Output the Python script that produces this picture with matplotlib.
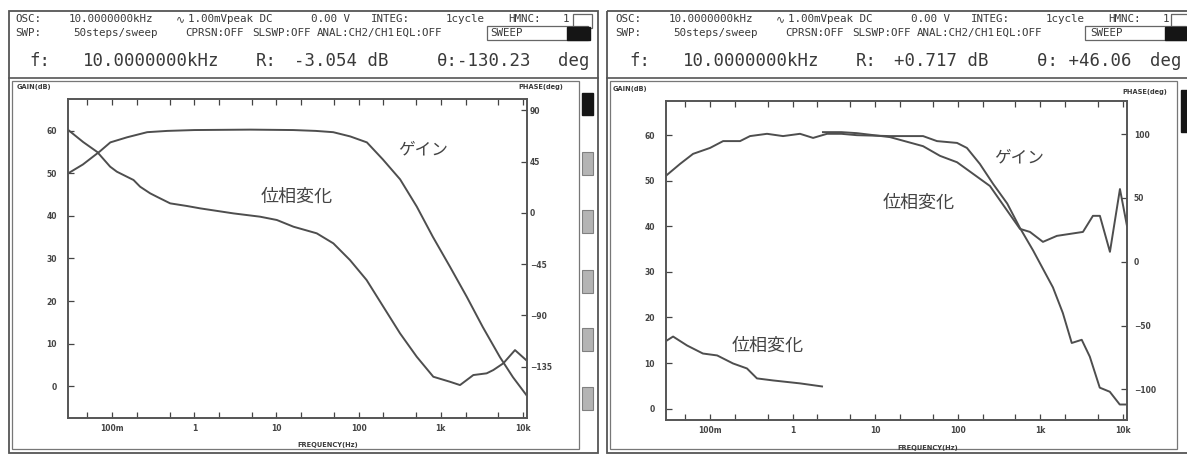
import numpy as np
import matplotlib.pyplot as plt
from matplotlib.patches import Rectangle
from matplotlib.ticker import FixedLocator, FixedFormatter, NullLocator

# ---- data (freq in Hz, gain in dB, phase in deg)
gain_l_freq = [0.029, 0.044, 0.071, 0.095, 0.152, 0.267, 0.47, 1.0, 4.8, 16, 30,
               49, 79, 126, 197, 320, 510, 800, 1290, 2070, 3240, 5250, 7550, 11000]
gain_l_db = [50, 52.1, 55.2, 57.3, 58.5, 59.7, 60, 60.2, 60.3, 60.2, 60,
             59.7, 58.7, 57.3, 53.3, 48.6, 42.2, 35.1, 28.1, 21, 13.9, 6.8, 2.1, -2.1]

phase_l_freq = [0.0292, 0.0444, 0.0658, 0.0945, 0.114, 0.151, 0.182, 0.219, 0.29, 0.35,
                0.508, 0.811, 1.18, 2.99, 6.31, 10.1, 16.1, 30.9, 49.2, 78.5, 125, 200,
                319, 509, 811, 1294, 1713, 2065, 2488, 3616, 4357, 5770, 8000, 10870]
phase_l_deg = [72.8, 62.2, 53.5, 40.6, 36.2, 31.8, 28.9, 23, 17.2, 14.2,
               8.4, 6.1, 4, -0.4, -3.3, -6.2, -12.1, -17.9, -26.7, -41.4, -58.9, -82.4,
               -105.7, -126.2, -143.8, -148.2, -151.1, -146.7, -142.3, -140.8, -137.9,
               -132, -120.4, -129]

gain_r_freq = [0.0293, 0.0434, 0.0623, 0.1, 0.144, 0.231, 0.305, 0.49, 0.765, 1.23, 1.77,
               2.61, 3.9, 6.0, 15.1, 38, 56, 98, 129, 185, 268, 397, 564, 817, 1420,
               1870, 2400, 3170, 3970, 5240, 6930, 9150, 11200]
gain_r_db = [51.1, 53.7, 55.9, 57.2, 58.7, 58.7, 59.8, 60.3, 59.8, 60.3, 59.4,
             60.3, 60.3, 60.0, 59.8, 59.8, 58.7, 58.3, 57.2, 53.7, 49.3, 45, 39.7, 34.7, 26.6,
             21, 14.4, 15.1, 11.4, 4.6, 3.7, 0.9, 0.9]

# phase leaves the screen around 2.3 Hz and comes back near the top (nan = gap)
phase_r_freq = [0.030, 0.0357, 0.0527, 0.082, 0.122, 0.19, 0.28, 0.37, 0.58, 1.23, 2.27,
                2.3, 2.33, 3.9, 6.0, 15.1, 38, 61, 98, 245, 566, 748, 1075, 1585,
                3280, 4330, 5260, 6960, 9200, 11200]
phase_r_deg = [-61.7, -58.6, -65.6, -71.9, -73.4, -79.7, -83.6, -91.4, -93, -95.3, -97.7,
               np.nan, 101.6, 101.6, 100.8, 97.7, 90.6, 83, 78, 59.4, 25.8, 23.4, 15.6, 20.3,
               23.4, 36, 36, 7.8, 57, 28]

xtick_pos = [0.05, 0.1, 0.2, 0.5, 1, 2, 5, 10, 20, 50, 100, 200, 500,
             1000, 2000, 5000, 10000]
xtick_lab = ['', '100m', '', '', '1', '', '', '10', '', '', '100', '', '',
             '1k', '', '', '10k']
gain_l_ticks = [0, 10, 20, 30, 40, 50, 60]
phase_l_ticks = [-135, -90, -45, 0, 45, 90]
gain_r_ticks = [0, 10, 20, 30, 40, 50, 60]
phase_r_ticks = [-100, -50, 0, 50, 100]

W, H = 1187, 457
fig = plt.figure(figsize=(W / 100, H / 100), dpi=100)
bg = fig.add_axes([0, 0, 1, 1])
bg.set_xlim(0, W)
bg.set_ylim(H, 0)
bg.axis('off')

INK = '#3a3a3a'
LINE = '#4e4e4e'
MONO = ['DejaVu Sans Mono', 'DejaVu Sans']
JP = ['Noto Sans CJK JP', 'DejaVu Sans']


def rect(x0, y0, x1, y1, fill=None, ec='#555555', lw=1.0):
    bg.add_patch(Rectangle((x0, y0), x1 - x0, y1 - y0, fill=fill is not None,
                           facecolor=fill, edgecolor=ec, lw=lw))


def put(x, y, s, size=8, family=MONO, **kw):
    bg.text(x, y, s, fontsize=size, family=family, color=INK, va='center', **kw)


def header(dx, vals, deg_x):
    line1 = [('OSC:', 15), ('10.0000000kHz', 69), ('∿', 176), ('1.00mVpeak DC', 188),
             ('0.00 V', 311), ('INTEG:', 371), ('1cycle', 446), ('HMNC:', 508), ('1', 563)]
    line2 = [('SWP:', 15), ('50steps/sweep', 73), ('CPRSN:OFF', 185), ('SLSWP:OFF', 252),
             ('ANAL:CH2/CH1', 317), ('EQL:OFF', 396), ('SWEEP', 490)]
    for s, x in line1:
        put(x + dx, 19, s, size=7.8)
    for s, x in line2:
        put(x + dx, 33, s, size=7.8)
    line3 = [('f:', 29), ('10.0000000kHz', 83), ('R:', 256), (vals[0], 294),
             (vals[1], 437)]
    for s, x in line3:
        put(x + dx, 61, s, size=12.5)
    put(deg_x, 61, 'deg', size=12.5)


def frame(dx, right):
    rect(9 + dx, 11, right, 453, lw=1.3)
    bg.plot([9 + dx, right], [78, 78], color='#555555', lw=1.2)
    rect(12 + dx, 81, 579 + dx, 449, ec='#777777', lw=0.9)
    rect(573 + dx, 14, 592 + dx, 28, ec='#666666', lw=0.9)
    rect(487 + dx, 26, 588 + dx, 40, ec='#666666', lw=0.9)
    rect(567 + dx, 27, 590 + dx, 40, fill='#151515', ec='#151515')


# left panel furniture
frame(0, 598)
rect(582, 93, 593, 115, fill='#151515', ec='#151515')
for y0 in [152, 210, 270, 328, 387]:
    rect(582, y0, 593, y0 + 23, fill='#b4b4b4', ec='#808080', lw=0.8)
header(0, ('-3.054 dB', 'θ:-130.23'), 558)

# right panel furniture (cut at the right edge)
frame(598, 1195)
rect(1181, 90, 1192, 132, fill='#151515', ec='#151515')
header(600, ('+0.717 dB', 'θ: +46.06'), 1150)


def bode(box_px, xlim, glim, plim, gticks, pticks, gf, gv, pf, pv, rpad):
    x0, y0, x1, y1 = box_px
    ax = fig.add_axes([x0 / W, 1 - y1 / H, (x1 - x0) / W, (y1 - y0) / H])
    ax.set_xscale('log')
    ax.set_xlim(*xlim)
    ax.set_ylim(*glim)
    ax.xaxis.set_major_locator(FixedLocator(xtick_pos))
    ax.xaxis.set_major_formatter(FixedFormatter(xtick_lab))
    ax.xaxis.set_minor_locator(NullLocator())
    ax.set_yticks(gticks)
    ax.tick_params(direction='in', length=4, width=0.9, colors='#444444',
                   labelsize=5.5, top=True)
    ax.tick_params(axis='y', pad=8)
    ax.tick_params(axis='x', pad=4)
    ax.plot(gf, gv, color=LINE, lw=1.4)

    ax2 = ax.twinx()
    ax2.set_ylim(*plim)
    ax2.set_yticks(pticks)
    ax2.yaxis.set_minor_locator(NullLocator())
    ax2.tick_params(direction='in', length=4, width=0.9, colors='#444444',
                    labelsize=5.5, pad=rpad)
    ax2.plot(pf, pv, color=LINE, lw=1.4)
    for a in (ax, ax2):
        for sp in a.spines.values():
            sp.set_color('#555555')
            sp.set_linewidth(1.2)
        for lab in a.get_xticklabels() + a.get_yticklabels():
            lab.set_fontweight('bold')
    return ax


bode((68, 99, 527, 418), (0.029, 11200), (-7.5, 67.5), (-180, 100),
     gain_l_ticks, phase_l_ticks, gain_l_freq, gain_l_db, phase_l_freq, phase_l_deg, 2)
bode((666, 101, 1127, 420), (0.0293, 11200), (-2.5, 67.5), (-124, 126),
     gain_r_ticks, phase_r_ticks, gain_r_freq, gain_r_db, phase_r_freq, phase_r_deg, 5)

# small axis captions
for x, y, s in [(17, 87, 'GAIN(dB)'), (518, 87, 'PHASE(deg)'), (297, 445, 'FREQUENCY(Hz)'),
                (613, 89, 'GAIN(dB)'), (1122, 92, 'PHASE(deg)'), (897, 448, 'FREQUENCY(Hz)')]:
    put(x, y, s, size=4.8, family=['DejaVu Sans'], fontweight='bold')

# Japanese curve labels, drawn on the figure so they sit above the plot axes
for x, y, s, size in [(423, 150, 'ゲイン', 12), (297, 197, '位相変化', 13),
                      (1019, 158, 'ゲイン', 12), (919, 203, '位相変化', 13),
                      (768, 346, '位相変化', 13)]:
    fig.text(x / W, 1 - y / H, s, fontsize=size, family=JP, color='#444444',
             ha='center', va='center', zorder=10)

fig.savefig('out.png', dpi=100)
